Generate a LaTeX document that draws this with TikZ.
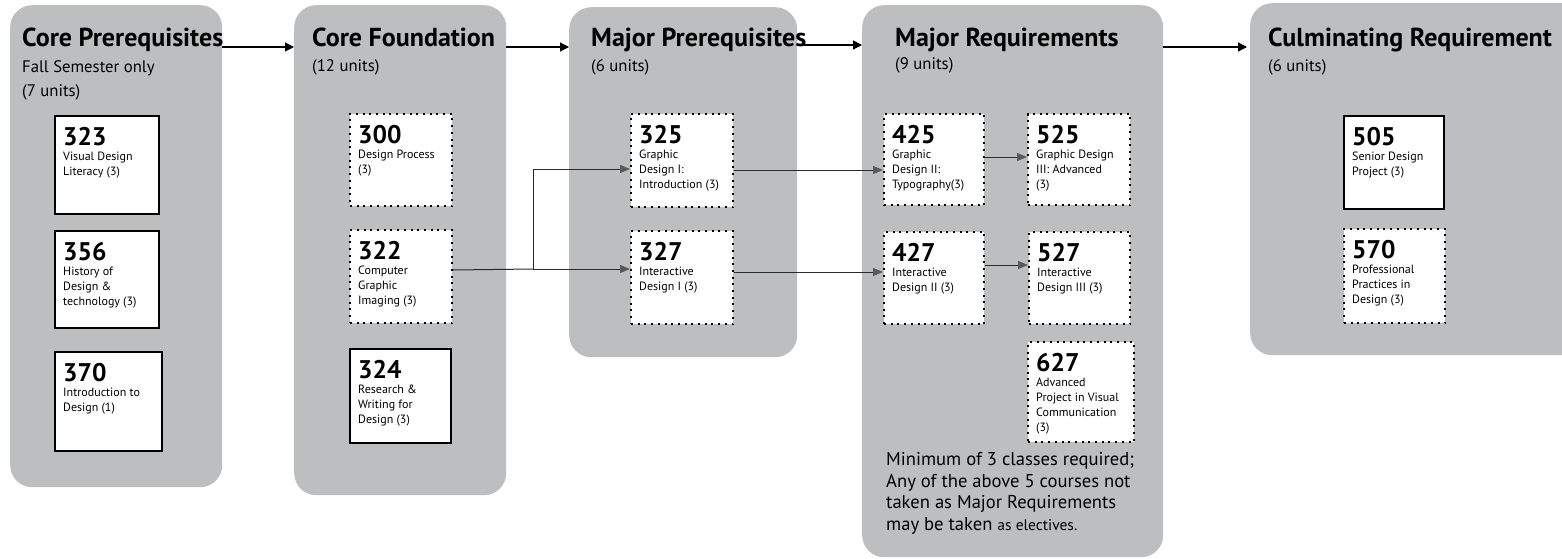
\documentclass[tikz,border=0pt]{standalone}
\usepackage{fontspec}
\setmainfont{PT Sans}
\usetikzlibrary{arrows.meta}
\definecolor{panelgray}{HTML}{BDBEC0}
\definecolor{tipgray}{HTML}{5A5A5A}
\definecolor{linegray}{HTML}{2A2A2A}
\newcommand{\numfont}{\bfseries\fontsize{25.5}{25.5}\selectfont}
\newcommand{\descfont}{\fontsize{12}{15}\selectfont}
\newcommand{\titlefont}{\bfseries\fontsize{26}{28}\selectfont}
\newcommand{\subfont}{\fontsize{16.7}{20}\selectfont}
\newcommand{\notefont}{\fontsize{18.6}{21.7}\selectfont}
\newcommand{\course}[8]{%
  \node[#6, minimum width=#4pt, minimum height=#5pt, anchor=north west] (#1) at (#2,#3) {};
  \node[ctext] (#1t) at ([xshift=9pt,yshift=-12.5pt]#1.north west) {{\numfont #7}\\#8};
}
\tikzset{
  panel/.style={fill=panelgray, draw=none, rounded corners=22pt, inner sep=0pt},
  solidbox/.style={fill=white, draw=black, line width=2.2pt, inner sep=0pt},
  dotbox/.style={fill=white, draw=black, line width=2pt, dash pattern=on 2pt off 4.7pt, inner sep=0pt},
  ctext/.style={anchor=north west, inner sep=0pt, align=left, font=\descfont},
  ttl/.style={anchor=base west, inner sep=0pt, font=\titlefont},
  sub/.style={anchor=base west, inner sep=0pt, font=\subfont},
  bigarrow/.style={draw=black, line width=1.2pt, -{Triangle[length=9pt,width=9pt]}},
  conn/.style={draw=linegray, line width=1pt, -{Triangle[length=10pt,width=8pt,color=tipgray]}},
  plain/.style={draw=linegray, line width=1pt},
}
\begin{document}
\begin{tikzpicture}[x=1pt,y=-1pt]
\useasboundingbox (0,0) rectangle (1562,559);
% panels
\node[panel, minimum width=212pt, minimum height=482pt, anchor=north west] (p1) at (10,5) {};
\node[panel, minimum width=212pt, minimum height=490pt, anchor=north west] (p2) at (294,5) {};
\node[panel, minimum width=228pt, minimum height=350pt, anchor=north west] (p3) at (569,7) {};
\node[panel, minimum width=301pt, minimum height=552pt, anchor=north west] (p4) at (862,5) {};
\node[panel, minimum width=340pt, minimum height=352pt, anchor=north west] (p5) at (1250,3) {};
% titles
\node[ttl] (t1) at (22,47) {Core Prerequisites};
\node[sub] (s1a) at (22,73) {Fall Semester only};
\node[sub] (s1b) at (22,97) {(7 units)};
\node[ttl] (t2) at (312,47) {Core Foundation};
\node[sub] (s2) at (312,72) {(12 units)};
\node[ttl] (t3) at (591,47) {Major Prerequisites};
\node[sub] (s3) at (591,72) {(6 units)};
\node[ttl] (t4) at (895,47) {Major Requirements};
\node[sub] (s4) at (895,70) {(9 units)};
\node[ttl] (t5) at (1268,47) {Culminating Requirement};
\node[sub] (s5) at (1268,72) {(6 units)};
% courses
\course{c323}{54}{115}{104}{98}{solidbox}{323}{Visual Design\\Literacy (3)}
\course{c356}{54}{230}{104}{97}{solidbox}{356}{History of\\Design \&\\technology (3)}
\course{c370}{54}{351}{107}{99}{solidbox}{370}{Introduction to\\Design (1)}
\course{c300}{349}{113}{102}{92}{dotbox}{300}{Design Process\\(3)}
\course{c322}{349}{229}{102}{93}{dotbox}{322}{Computer\\Graphic\\Imaging (3)}
\course{c324}{349}{348}{101}{94}{solidbox}{324}{Research \&\\Writing for\\Design (3)}
\course{c325}{630}{113}{102}{93}{dotbox}{325}{Graphic\\Design I:\\Introduction (3)}
\course{c327}{630}{230}{102}{93}{dotbox}{327}{Interactive\\Design I (3)}
\course{c425}{883}{113}{100}{91}{dotbox}{425}{Graphic\\Design II:\\Typography(3)}
\course{c525}{1027}{113}{102}{91}{dotbox}{525}{Graphic Design\\III: Advanced\\(3)}
\course{c427}{883}{231}{100}{92}{dotbox}{427}{Interactive\\Design II (3)}
\course{c527}{1028}{231}{101}{92}{dotbox}{527}{Interactive\\Design III (3)}
\course{c627}{1027}{341}{106}{100}{dotbox}{627}{Advanced\\Project in Visual\\Communication\\(3)}
\course{c505}{1343}{115}{100}{93}{solidbox}{505}{Senior Design\\Project (3)}
\course{c570}{1343}{228}{101}{94}{dotbox}{570}{Professional\\Practices in\\Design (3)}
% note
\node[anchor=north west, inner sep=0pt, align=left, font=\notefont] (note) at (886,452)
  {Minimum of 3 classes required;\\Any of the above 5 courses not\\taken as Major Requirements\\may be taken {\fontsize{15.5}{21.7}\selectfont as electives.}};
% panel arrows
\draw[bigarrow] (p1.east |- t1.base) -- (p2.west |- t1.base);
\draw[bigarrow] (p2.east |- t2.base) -- (p3.west |- t2.base);
\draw[bigarrow] ([yshift=2pt]p3.east |- t3.base) -- ([yshift=2pt]p4.west |- t3.base);
\draw[bigarrow] (p4.east |- t4.base) -- ([xshift=-3pt]p5.west |- t4.base);
% course connectors
\coordinate (j) at (533,269);
\draw[plain] ([yshift=6.5pt]c322.east) -- (j);
\draw[conn] (j) -- (c327.west |- j);
\draw[conn] (j) |- ([yshift=-8.5pt]c325.west);
\draw[conn] ([yshift=-9.5pt]c325.east) -- ([yshift=-9.5pt]c325.east -| c425.west);
\draw[conn] ([yshift=5.5pt]c327.east) -- ([yshift=5.5pt]c327.east -| c427.west);
\draw[conn] ([yshift=2.5pt]c425.east) -- ([yshift=2.5pt]c425.east -| c525.west);
\draw[conn] ([yshift=13pt]c427.east) -- ([yshift=13pt]c427.east -| c527.west);
\end{tikzpicture}
\end{document}
